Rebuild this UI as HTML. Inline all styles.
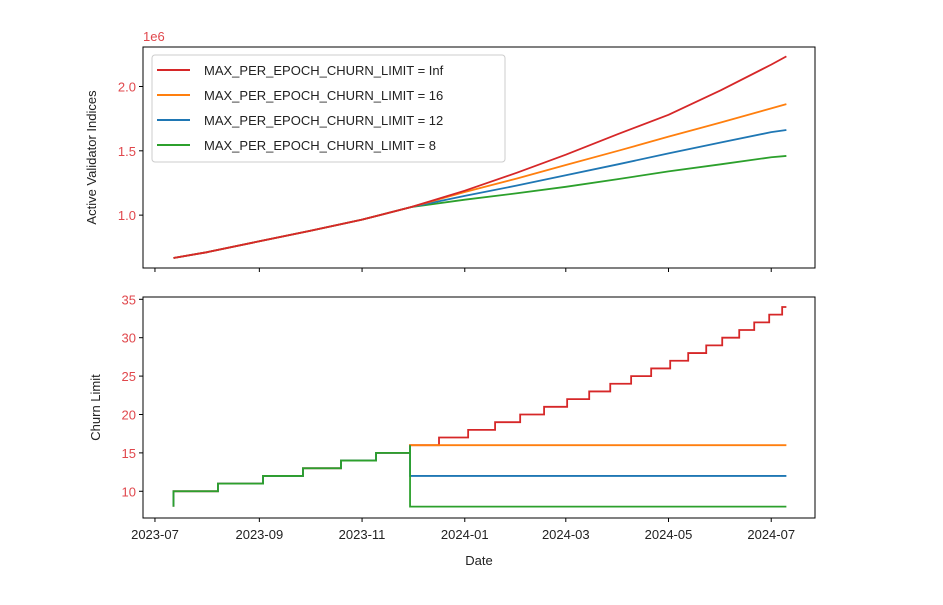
<!DOCTYPE html>
<html><head><meta charset="utf-8">
<style>
body{margin:0;background:#fff;}
svg{display:block;font-family:"Liberation Sans",sans-serif;}
.tk{font-size:13px;fill:#222;}
.ty{font-size:13px;fill:#e0474c;}
</style></head>
<body>
<svg id="chart" width="943" height="605" viewBox="0 0 943 605">
<rect width="943" height="605" fill="#fff"/>
<g id="topPanel"></g>
<g id="botPanel"></g>
</svg>
<script>
// Data (days since 2023-07-01)
const xTickLabels = ["2023-07","2023-09","2023-11","2024-01","2024-03","2024-05","2024-07"];
const xTickDays = [0,62,123,184,244,305,366];
const sharedDays = [11,31,62,92,123,152];
const sharedVals = [0.667,0.712,0.797,0.878,0.965,1.062];
const splitDays = [152,184,215,244,275,305,336,366,375];
const valsInf = [1.062,1.19,1.33,1.47,1.63,1.78,1.97,2.17,2.234];
const vals16 = [1.062,1.18,1.285,1.39,1.50,1.61,1.72,1.83,1.863];
const vals12 = [1.062,1.15,1.23,1.31,1.395,1.48,1.565,1.645,1.662];
const vals8 = [1.062,1.12,1.17,1.22,1.28,1.34,1.395,1.45,1.46];
const topYTicks = [1.0,1.5,2.0];
const botYTicks = [10,15,20,25,30,35];
const sharedStepDays = [11,11,37.4,64.2,87.9,110.5,131.3,151.5];
const sharedStepVals = [8,10,11,12,13,14,15,16];
const infStepDays = [151.5,168.7,186,202,216.9,231.1,244.8,257.9,270.4,282.8,294.7,306,316.7,327.4,336.9,347,355.9,364.8,372.5];
const infStepVals = [16,17,18,19,20,21,22,23,24,25,26,27,28,29,30,31,32,33,34];
const endDay = 375;
const labels = ["MAX_PER_EPOCH_CHURN_LIMIT = Inf","MAX_PER_EPOCH_CHURN_LIMIT = 16","MAX_PER_EPOCH_CHURN_LIMIT = 12","MAX_PER_EPOCH_CHURN_LIMIT = 8"];
const colors = ["#d62728","#ff7f0e","#1f77b4","#2ca02c"];

const NS="http://www.w3.org/2000/svg";
const X0=143,X1=815,D0=-7.1,D1=392;
const xs=d=>X0+(d-D0)/(D1-D0)*(X1-X0);
const T0=47,T1=268,V0=0.589,V1=2.307;
const yT=v=>T1-(v-V0)/(V1-V0)*(T1-T0);
const B0=297,B1=518,C0=6.52,C1=35.3;
const yB=v=>B1-(v-C0)/(C1-C0)*(B1-B0);
function mk(p,tag,a){const e=document.createElementNS(NS,tag);for(const k in a)e.setAttribute(k,a[k]);p.appendChild(e);return e;}
const topG=document.getElementById('topPanel'),botG=document.getElementById('botPanel');

let f=mk(topG,'rect',{x:X0,y:T0,width:X1-X0,height:T1-T0,fill:'none',stroke:'#000','stroke-width':1});


f=mk(botG,'rect',{x:X0,y:B0,width:X1-X0,height:B1-B0,fill:'none',stroke:'#000','stroke-width':1});



xTickDays.forEach((d,i)=>{
  let t=mk(topG,'line',{x1:xs(d),x2:xs(d),y1:T1,y2:T1+4,stroke:'#000'});
  
  
  t=mk(botG,'line',{x1:xs(d),x2:xs(d),y1:B1,y2:B1+4,stroke:'#000'});
  
  
  const l=mk(botG,'text',{x:xs(d),y:B1+21,'text-anchor':'middle',class:'tk'});
  l.textContent=xTickLabels[i];
  
  
});
topYTicks.forEach(v=>{
  const t=mk(topG,'line',{x1:X0-4,x2:X0,y1:yT(v),y2:yT(v),stroke:'#000'});
  
  
  const l=mk(topG,'text',{x:X0-7,y:yT(v)+5,'text-anchor':'end',class:'ty'});
  l.textContent=v.toFixed(1);
  
  
});
botYTicks.forEach(v=>{
  const t=mk(botG,'line',{x1:X0-4,x2:X0,y1:yB(v),y2:yB(v),stroke:'#000'});
  
  
  const l=mk(botG,'text',{x:X0-7,y:yB(v)+5,'text-anchor':'end',class:'ty'});
  l.textContent=v;
  
  
});
let t=mk(topG,'text',{x:X0,y:T0-6,class:'ty'});t.textContent='1e6';


t=mk(topG,'text',{x:0,y:0,transform:`translate(96,${(T0+T1)/2}) rotate(-90)`,'text-anchor':'middle',class:'tk'});t.textContent='Active Validator Indices';


t=mk(botG,'text',{x:0,y:0,transform:`translate(100,${(B0+B1)/2}) rotate(-90)`,'text-anchor':'middle',class:'tk'});t.textContent='Churn Limit';


t=mk(botG,'text',{x:(X0+X1)/2,y:565,'text-anchor':'middle',class:'tk'});t.textContent='Date';



const series=[valsInf,vals16,vals12,vals8];
const names=['line-inf','line-16','line-12','line-8'];
[3,2,1,0].forEach(i=>{
  const pts=sharedDays.map((d,j)=>xs(d)+','+yT(sharedVals[j])).concat(splitDays.map((d,j)=>xs(d)+','+yT(series[i][j])));
  const p=mk(topG,'polyline',{points:pts.join(' '),fill:'none',stroke:colors[i],'stroke-width':1.8,'stroke-linejoin':'round'});
  
  
});
function stepPts(days,vals,end){const a=[];days.forEach((d,j)=>{if(j>0)a.push(xs(d)+','+yB(vals[j-1]));a.push(xs(d)+','+yB(vals[j]));});a.push(xs(end)+','+yB(vals[vals.length-1]));return a;}
const sh=stepPts(sharedStepDays,sharedStepVals,sharedStepDays[sharedStepDays.length-1]);
const flatVals=[null,16,12,8];
let p=mk(botG,'polyline',{points:sh.concat(stepPts(infStepDays,infStepVals,endDay)).join(' '),fill:'none',stroke:colors[0],'stroke-width':1.8});


[1,2,3].forEach(i=>{
  const last=sharedStepDays[sharedStepDays.length-1];
  const pts=sh.concat([xs(last)+','+yB(flatVals[i]),xs(endDay)+','+yB(flatVals[i])]);
  const q=mk(botG,'polyline',{points:pts.join(' '),fill:'none',stroke:colors[i],'stroke-width':1.8});
  
  
});

const lg=mk(topG,'g',{});


mk(lg,'rect',{x:152,y:55,width:353,height:107,rx:3,fill:'#fff','fill-opacity':0.85,stroke:'#ccc'});
labels.forEach((s,i)=>{
  const yy=70+i*25;
  const e=mk(lg,'g',{});
  
  
  mk(e,'line',{x1:157,x2:190,y1:yy,y2:yy,stroke:colors[i],'stroke-width':2});
  const tx=mk(e,'text',{x:204,y:yy+5,class:'tk'});
  tx.textContent=s;
});
</script>
</body></html>
